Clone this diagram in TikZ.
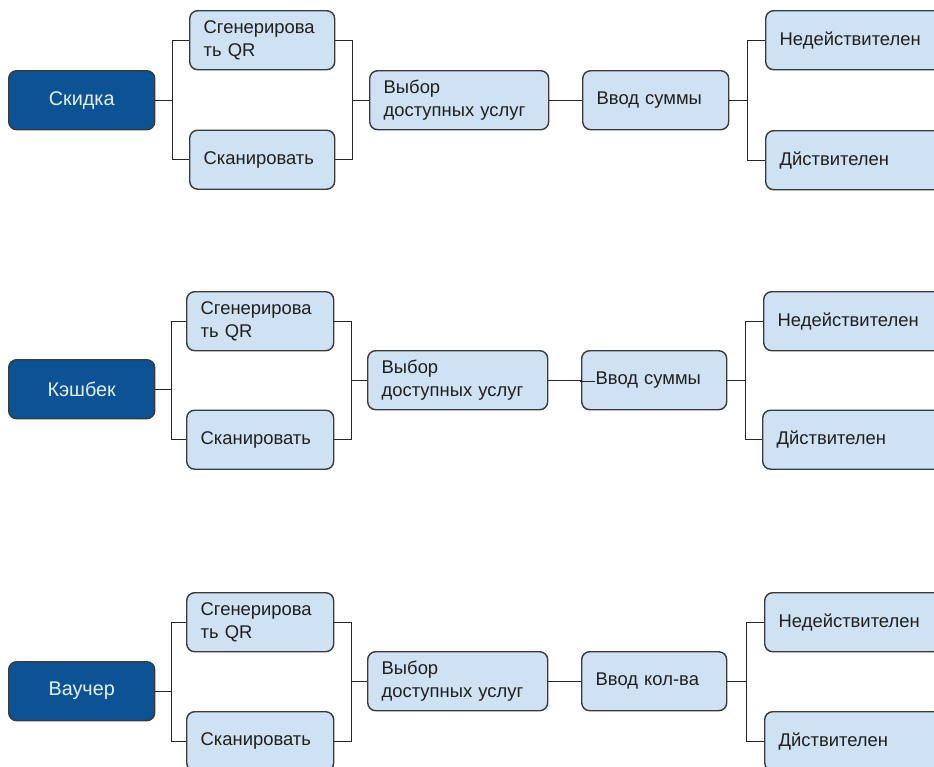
\documentclass[tikz,border=0pt]{standalone}
\usepackage{fontspec}
\setmainfont{Liberation Sans}
\usetikzlibrary{calc}
\definecolor{darkfill}{HTML}{0B5394}
\definecolor{lightfill}{HTML}{CFE2F3}
\definecolor{bordercol}{HTML}{3A3A3A}
\definecolor{txtcol}{HTML}{1F1F1F}
\definecolor{darktxt}{HTML}{E6EEF6}
\tikzset{
  box/.style={draw=bordercol, line width=1.4pt, rounded corners=8pt, fill=lightfill,
    inner xsep=14pt, inner ysep=0pt, minimum height=59pt, align=left, anchor=north west,
    text=txtcol, font=\fontsize{18.4}{22.5}\selectfont},
  mainbox/.style={box, fill=darkfill, text=darktxt, align=center, font=\fontsize{19.8}{24}\selectfont},
  conn/.style={draw=black!85, line width=1.3pt}
}
\begin{document}
\begin{tikzpicture}[x=1pt,y=-1pt]
\useasboundingbox (0,0) rectangle (934,766);
\clip (0,0) rectangle (934,766);
% Row 1
\node[mainbox, text width=118pt] (m1) at (8,70) {Скидка};
\node[box, text width=117pt] (qr1) at (189,10) {Сгенерирова\\ть QR};
\node[box, text width=117pt] (sc1) at (189,129.5) {Сканировать};
\node[box, text width=151pt] (vy1) at (369,70) {Выбор\\доступных услуг};
\node[box, text width=118pt] (vv1) at (582,70) {Ввод суммы};
\node[box, text width=152pt] (nd1) at (765,10) {Недействителен};
\node[box, text width=152pt] (dv1) at (765,130) {Дйствителен};
\draw[conn] (m1.east) -- ++(17,0) |- (qr1.west);
\draw[conn] (m1.east) -- ++(17,0) |- (sc1.west);
\draw[conn] (qr1.east) -- ++(17,0) |- (vy1.west);
\draw[conn] (sc1.east) -- ++(17,0) |- (vy1.west);
\draw[conn] (vy1.east) -- (vv1.west);
\draw[conn] (vv1.east) -- ++(18,0) |- (nd1.west);
\draw[conn] (vv1.east) -- ++(18,0) |- (dv1.west);
% Row 2
\node[mainbox, text width=118pt] (m2) at (8,359) {Кэшбек};
\node[box, text width=119pt] (qr2) at (186,291) {Сгенерирова\\ть QR};
\node[box, text width=119pt] (sc2) at (186,409.5) {Сканировать};
\node[box, text width=152pt] (vy2) at (367,350) {Выбор\\доступных услуг};
\node[box, text width=117pt] (vv2) at (581,350) {Ввод суммы};
\node[box, text width=152pt] (nd2) at (763,291) {Недействителен};
\node[box, text width=152pt] (dv2) at (762,409.5) {Дйствителен};
\draw[conn] (m2.east) -- ++(16,0) |- (qr2.west);
\draw[conn] (m2.east) -- ++(16,0) |- (sc2.west);
\draw[conn] (qr2.east) -- ++(17,0) |- (vy2.west);
\draw[conn] (sc2.east) -- ++(17,0) |- (vy2.west);
\draw[conn] (vy2.east) -- (vv2.west) -- ++(0,1) -- ++(14,0);
\draw[conn] (vv2.east) -- ++(18,0) |- (nd2.west);
\draw[conn] (vv2.east) -- ++(18,0) |- (dv2.west);
% Row 3
\node[mainbox, text width=118pt] (m3) at (8,661) {Ваучер};
\node[box, text width=119pt] (qr3) at (186,592) {Сгенерирова\\ть QR};
\node[box, text width=119pt] (sc3) at (186,711) {Сканировать};
\node[box, text width=152pt] (vy3) at (367,651) {Выбор\\доступных услуг};
\node[box, text width=117pt] (vv3) at (581,651) {Ввод кол-ва};
\node[box, text width=152pt] (nd3) at (764,592) {Недействителен};
\node[box, text width=152pt] (dv3) at (764,711) {Дйствителен};
\draw[conn] (m3.east) -- ++(16,0) |- (qr3.west);
\draw[conn] (m3.east) -- ++(16,0) |- (sc3.west);
\draw[conn] (qr3.east) -- ++(17,0) |- (vy3.west);
\draw[conn] (sc3.east) -- ++(17,0) |- (vy3.west);
\draw[conn] (vy3.east) -- (vv3.west);
\draw[conn] (vv3.east) -- ++(19,0) |- (nd3.west);
\draw[conn] (vv3.east) -- ++(19,0) |- (dv3.west);
\end{tikzpicture}
\end{document}
